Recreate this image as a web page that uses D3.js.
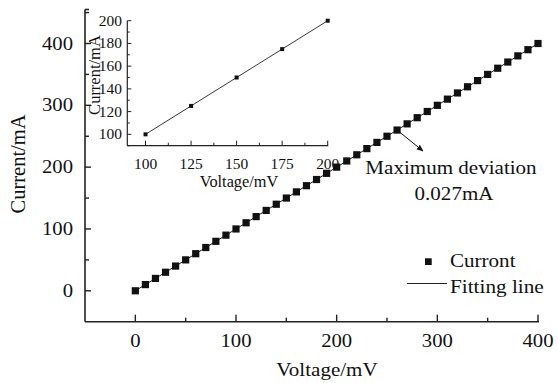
<!DOCTYPE html>
<html>
<head>
<meta charset="utf-8">
<script src="https://cdn.jsdelivr.net/npm/d3@7"></script>
<style>
  body { margin: 0; background: #fff; }
  text { font-family: "Liberation Serif", "Times New Roman", serif; fill: #111; }
</style>
</head>
<body>
<svg id="chart" width="558" height="383"></svg>
<script>
// main data: voltage (mV) vs current (mA)
let voltage = [0,10,20,30,40,50,60,70,80,90,100,110,120,130,140,150,160,170,180,190,200,
               210,220,230,240,250,260,270,280,290,300,310,320,330,340,350,360,370,380,390,400];
let current = [0,10,20,30,40,50,60,70,80,90,100,110,120,130,140,150,160,170,180,190,200,
               210,220,230,240,250,260,270,280,290,300,310,320,330,340,350,360,370,380,390,400];
let fitX = [0, 400];
let fitY = [0, 400];
// inset data
let insetVoltage = [100, 125, 150, 175, 200];
let insetCurrent = [100, 125, 150, 175, 200];
let xTicks = [0, 100, 200, 300, 400];
let yTicks = [0, 100, 200, 300, 400];
let insetXTicks = [100, 125, 150, 175, 200];
let insetYTicks = [100, 120, 140, 160, 180, 200];
let deviationAt = 260;

let svg = d3.select("#chart");
let x = d3.scaleLinear().domain([-50, 400]).range([85, 538]);
let y = d3.scaleLinear().domain([-50, 455]).range([321.7, 9.5]);

function axisLine(g, x1, y1, x2, y2, w){
    g.append("line").attr("x1",x1).attr("y1",y1).attr("x2",x2).attr("y2",y2)
        .style("stroke","#222").style("stroke-width",w);
}
// the source picture is a bit stretched sideways, so text gets a scaleX
function txt(g, tx, ty, str, size, anchor, sx){
    return g.append("text")
        .attr("transform","translate("+tx+","+ty+") scale("+sx+",1)")
        .style("font-size",size+"px").style("text-anchor",anchor).text(str);
}

// main axes
let ax = svg.append("g");
axisLine(ax, x.range()[0], y.range()[0], x.range()[1]+1, y.range()[0], 1.6);
axisLine(ax, x.range()[0], y.range()[0], x.range()[0], y.range()[1], 1.6);
axisLine(ax, x.range()[0], y.range()[1], x.range()[0]+4, y.range()[1], 1.6);
d3.range(0, 401, 50).forEach(v=>{
    let len = v % 100 === 0 ? 7 : 4;
    axisLine(ax, x(v), y.range()[0], x(v), y.range()[0]-len, 1.4);
});
d3.range(0, 451, 50).forEach(v=>{
    let len = v % 100 === 0 ? 6 : 4;
    axisLine(ax, x.range()[0], y(v), x.range()[0]+len, y(v), 1.4);
});
xTicks.forEach(d=>txt(ax, x(d), 347, d, 18, "middle", 1.15));
yTicks.forEach(d=>txt(ax, 73, y(d)+6, d, 18, "end", 1.15));
txt(ax, 327, 376, "Voltage/mV", 18, "middle", 1.17);
ax.append("text").attr("transform","translate(25,164) rotate(-90)")
    .style("font-size","20.5px").style("text-anchor","middle").text("Current/mA");

// fitting line + squares
let line = d3.line().x(d=>x(d[0])).y(d=>y(d[1]));
svg.append("path").attr("d", line(d3.zip(fitX, fitY)))
    .style("fill","none").style("stroke","#222").style("stroke-width",1);
svg.selectAll(".pt").data(d3.zip(voltage, current)).enter().append("rect")
    .attr("x", d=>x(d[0])-3.6).attr("y", d=>y(d[1])-3.6)
    .attr("width",7.2).attr("height",7.2).style("fill","#111");

// annotation arrow
svg.append("defs").append("marker").attr("id","arr")
    .attr("viewBox","0 0 10 10").attr("refX",9).attr("refY",5)
    .attr("markerWidth",7).attr("markerHeight",7).attr("orient","auto")
    .append("path").attr("d","M0,1L10,5L0,9Z").style("fill","#111");
svg.append("line").attr("x1", x(deviationAt)).attr("y1", y(deviationAt))
    .attr("x2", 423).attr("y2", 151)
    .style("stroke","#111").style("stroke-width",1).attr("marker-end","url(#arr)");
txt(svg, 451, 174, "Maximum deviation", 18, "middle", 1.17);
txt(svg, 454, 200, "0.027mA", 18, "middle", 1.17);

// legend
svg.append("rect").attr("x", 425).attr("y", 258.3).attr("width",6.7).attr("height",6.7).style("fill","#111");
txt(svg, 450, 267, "Curront", 18, "start", 1.17);
axisLine(svg, 407, 283.5, 447, 283.5, 1);
txt(svg, 450, 293, "Fitting line", 18, "start", 1.18);

// inset
let ix = d3.scaleLinear().domain([90, 200]).range([127.3, 327.7]);
let iy = d3.scaleLinear().domain([90, 200]).range([145.7, 20.7]);
let ins = svg.append("g");
axisLine(ins, ix.range()[0], iy.range()[0], ix.range()[1]+0.5, iy.range()[0], 1.2);
axisLine(ins, ix.range()[0], iy.range()[0], ix.range()[0], iy.range()[1], 1.2);
d3.range(100, 201, 12.5).forEach(v=>{
    let len = v % 25 === 0 ? 5 : 3;
    axisLine(ins, ix(v), iy.range()[0], ix(v), iy.range()[0]-len, 1);
});
d3.range(90, 201, 10).forEach(v=>{
    let len = v % 20 === 0 ? 4 : 2.5;
    axisLine(ins, ix.range()[0], iy(v), ix.range()[0]+len, iy(v), 1);
});
insetXTicks.forEach(d=>txt(ins, ix(d), 169, d, 15, "middle", 1.03));
insetYTicks.forEach(d=>txt(ins, 122, iy(d)+5, d, 15, "end", 1.03));
txt(ins, 239, 187, "Voltage/mV", 16, "middle", 1.02);
ins.append("text").attr("transform","translate(100,75) rotate(-90)")
    .style("font-size","16.5px").style("text-anchor","middle").text("Current/mA");
let iline = d3.line().x(d=>ix(d[0])).y(d=>iy(d[1]));
ins.append("path").attr("d", iline(d3.zip(insetVoltage, insetCurrent)))
    .style("fill","none").style("stroke","#222").style("stroke-width",0.9);
ins.selectAll(".ipt").data(d3.zip(insetVoltage, insetCurrent)).enter().append("rect")
    .attr("x", d=>ix(d[0])-2).attr("y", d=>iy(d[1])-2)
    .attr("width",4).attr("height",4).style("fill","#111");
</script>
</body>
</html>
